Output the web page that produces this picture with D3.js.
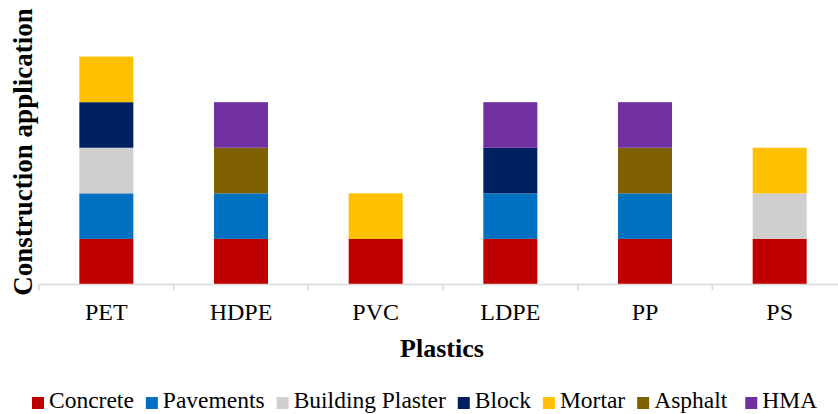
<!DOCTYPE html>
<html>
<head>
<meta charset="utf-8">
<script src="https://cdn.jsdelivr.net/npm/d3@7"></script>
<style>
  body { margin: 0; background: #fff; }
  svg { display: block; font-family: "Liberation Serif", "Times New Roman", serif; }
</style>
</head>
<body>
<script>
(function() {
    const plastics = ['PET', 'HDPE', 'PVC', 'LDPE', 'PP', 'PS'];
    const applications = ['Concrete', 'Pavements', 'Building Plaster', 'Block', 'Mortar', 'Asphalt', 'HMA'];
    const colors = ['#C00000', '#0070C0', '#D0CECE', '#002060', '#FFC000', '#7F6000', '#7030A0'];

    // 1 = plastic is used in that application
    const concrete       = [1, 1, 1, 1, 1, 1];
    const pavements      = [1, 1, 0, 1, 1, 0];
    const buildPlaster   = [1, 0, 0, 0, 0, 1];
    const block          = [1, 0, 0, 1, 0, 0];
    const mortar         = [1, 0, 1, 0, 0, 1];
    const asphalt        = [0, 1, 0, 0, 1, 0];
    const hma            = [0, 1, 0, 1, 1, 0];

    const seriesValues = [concrete, pavements, buildPlaster, block, mortar, asphalt, hma];

    const width = 838,
          height = 414,
          left = 39,
          right = 847,
          baseline = 284.5,
          top = 11;

    let rows = plastics.map((p, i) => {
        let row = { plastic: p };
        applications.forEach((a, j) => row[a] = seriesValues[j][i]);
        return row;
    });

    let stacked = d3.stack().keys(applications)(rows);

    let svg = d3.select('body')
                .append('svg')
                .attr('width', width)
                .attr('height', height);

    let x = d3.scaleBand()
              .domain(plastics)
              .range([left, right])
              .paddingInner(0)
              .paddingOuter(0);

    let y = d3.scaleLinear()
              .domain([0, 6])
              .range([baseline, top]);

    let color = d3.scaleOrdinal().domain(applications).range(colors);

    const barWidth = 54;

    svg.append('g')
       .selectAll('g')
       .data(stacked)
       .enter()
       .append('g')
       .attr('fill', d => color(d.key))
       .selectAll('rect')
       .data(d => d.filter(s => s[1] > s[0]))
       .enter()
       .append('rect')
       .attr('x', d => x(d.data.plastic) + (x.bandwidth() - barWidth) / 2)
       .attr('width', barWidth)
       .attr('y', d => y(d[1]))
       .attr('height', d => y(d[0]) - y(d[1]));

    // x axis: light gray line with ticks on category boundaries
    let axis = svg.append('g').attr('class', 'xAxis');
    axis.append('line')
        .attr('x1', left).attr('x2', width)
        .attr('y1', baseline).attr('y2', baseline)
        .attr('stroke', '#D9D9D9').attr('stroke-width', 1.5);

    axis.selectAll('line.tick')
        .data(plastics)
        .enter()
        .append('line')
        .attr('class', 'tick')
        .attr('x1', d => x(d)).attr('x2', d => x(d))
        .attr('y1', baseline).attr('y2', baseline + 6)
        .attr('stroke', '#D9D9D9').attr('stroke-width', 1.5);

    axis.selectAll('text')
        .data(plastics)
        .enter()
        .append('text')
        .attr('x', d => x(d) + x.bandwidth() / 2)
        .attr('y', 320)
        .attr('text-anchor', 'middle')
        .attr('font-size', 24)
        .attr('fill', '#000')
        .text(d => d);

    svg.append('text')
       .attr('x', 442)
       .attr('y', 357)
       .attr('text-anchor', 'middle')
       .attr('font-size', 26)
       .attr('font-weight', 'bold')
       .text('Plastics');

    svg.append('text')
       .attr('transform', 'translate(32,152) rotate(-90)')
       .attr('text-anchor', 'middle')
       .attr('font-size', 27)
       .attr('font-weight', 'bold')
       .text('Construction application');

    // legend
    let legend = svg.append('g').attr('class', 'legend');
    let cursor = 32;
    applications.forEach((a, i) => {
        legend.append('rect')
              .attr('x', cursor).attr('y', 397)
              .attr('width', 12).attr('height', 12)
              .attr('fill', colors[i]);
        let t = legend.append('text')
              .attr('x', cursor + 17).attr('y', 408)
              .attr('font-size', 23.5)
              .text(a);
        // excel leaves a wider gap before the last entry
        let gap = i === applications.length - 2 ? 18 : 12;
        cursor += 17 + t.node().getComputedTextLength() + gap;
    });
})();
</script>
</body>
</html>
